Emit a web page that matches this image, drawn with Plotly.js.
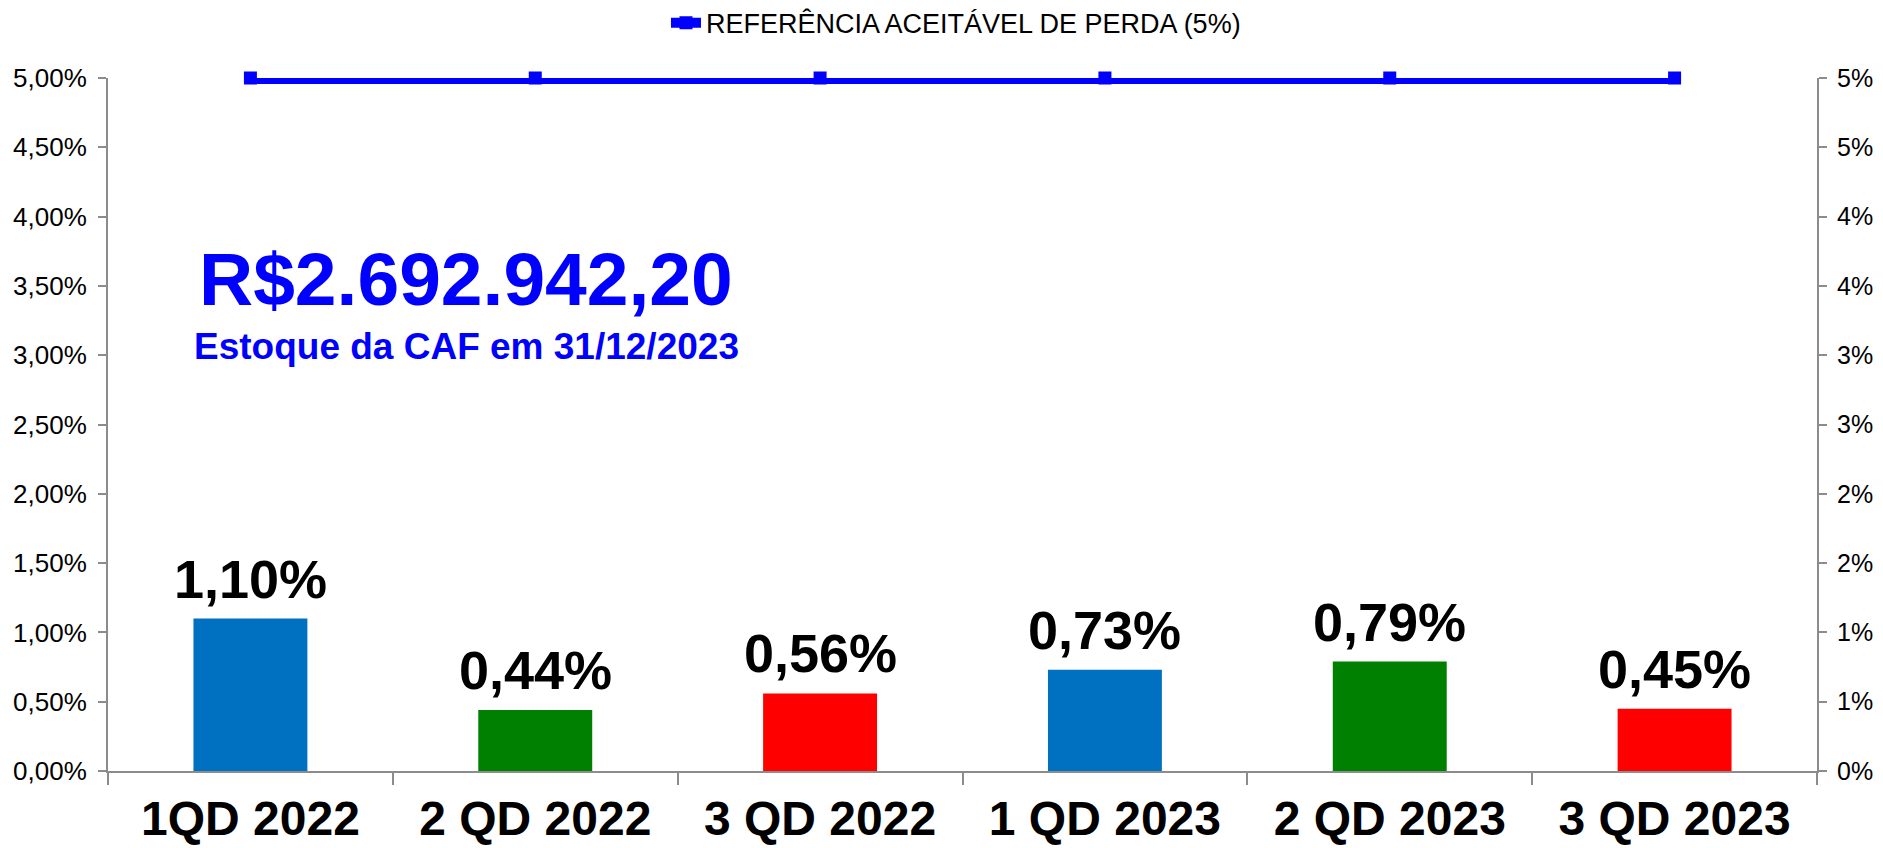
<!DOCTYPE html>
<html>
<head>
<meta charset="utf-8">
<script src="https://cdn.plot.ly/plotly-3.0.1.min.js"></script>
<style>
  html, body { margin: 0; padding: 0; background: #fff; }
  #plot { width: 1883px; height: 848px; }
</style>
</head>
<body>
<div id="plot"></div>
<script>
// dados do grafico (percentuais de perda por quadrimestre)
let categorias = ["1QD 2022", "2 QD 2022", "3 QD 2022", "1 QD 2023", "2 QD 2023", "3 QD 2023"];
let perdas = [1.10, 0.44, 0.56, 0.73, 0.79, 0.45];
let referencia = [5, 5, 5, 5, 5, 5];
let coresBarras = ["#0070C0", "#008000", "#FF0000", "#0070C0", "#008000", "#FF0000"];

let ticksValores = [0, 0.5, 1, 1.5, 2, 2.5, 3, 3.5, 4, 4.5, 5];
let ticksEsquerda = ["0,00%", "0,50%", "1,00%", "1,50%", "2,00%", "2,50%", "3,00%", "3,50%", "4,00%", "4,50%", "5,00%"];
let ticksDireita = ["0%", "1%", "1%", "2%", "2%", "3%", "3%", "4%", "4%", "5%", "5%"];

let estoque = "R$2.692.942,20";
let estoqueLegenda = "Estoque da CAF em 31/12/2023";

let fonte = "Liberation Sans, Arial, sans-serif";
let cinza = "#8c8c8c";

let trace1 = {
    x: categorias,
    y: perdas,
    type: "bar",
    width: 0.4,
    marker: { color: coresBarras },
    showlegend: false,
    hoverinfo: "skip"
};

let trace2 = {
    x: categorias,
    y: referencia,
    yaxis: "y2",
    type: "scatter",
    mode: "lines+markers",
    name: "REFERÊNCIA ACEITÁVEL DE PERDA (5%)",
    line: { color: "#0000FF", width: 12 },
    marker: { color: "#0000FF", symbol: "square", size: 13 },
    cliponaxis: false
};

// rotulos das barras (virgula como separador decimal)
let rotulos = perdas.map((v, i) => ({
    x: categorias[i],
    y: v,
    xref: "x", yref: "y",
    yanchor: "bottom",
    yshift: 8,
    text: "<b>" + v.toFixed(2).replace(".", ",") + "%</b>",
    showarrow: false,
    font: { family: fonte, size: 54, color: "#000" }
}));

let layout = {
    width: 1883,
    height: 848,
    margin: { l: 108, r: 66, t: 78, b: 77, autoexpand: false },
    paper_bgcolor: "#fff",
    plot_bgcolor: "#fff",
    font: { family: fonte, color: "#000" },
    showlegend: true,
    legend: {
        orientation: "h",
        x: 0.3265, xanchor: "left",
        y: 1.079, yanchor: "middle",
        font: { family: fonte, size: 27, color: "#000" },
        bgcolor: "rgba(0,0,0,0)"
    },
    xaxis: {
        type: "category",
        showline: true, linecolor: cinza, linewidth: 2,
        ticks: "outside", tickson: "boundaries", ticklen: 12, tickcolor: cinza, tickwidth: 2,
        ticklabelstandoff: 4,
        tickfont: { family: fonte, size: 48, color: "#000", weight: "bold" },
        showgrid: false, zeroline: false
    },
    yaxis: {
        range: [0, 5],
        tickvals: ticksValores,
        ticktext: ticksEsquerda,
        showline: true, linecolor: cinza, linewidth: 2,
        ticks: "outside", ticklen: 8, tickcolor: cinza, tickwidth: 2,
        ticklabelstandoff: 6,
        tickfont: { family: fonte, size: 26, color: "#000" },
        showgrid: false, zeroline: false
    },
    yaxis2: {
        range: [0, 5],
        overlaying: "y",
        side: "right",
        tickvals: ticksValores,
        ticktext: ticksDireita,
        showline: true, linecolor: cinza, linewidth: 2,
        ticks: "outside", ticklen: 8, tickcolor: cinza, tickwidth: 2,
        ticklabelstandoff: 5,
        tickfont: { family: fonte, size: 25, color: "#000" },
        showgrid: false, zeroline: false
    },
    annotations: rotulos.concat([
        {
            xref: "paper", yref: "paper",
            x: 0.2095, y: 0.71, xanchor: "center", yanchor: "middle",
            text: "<b>" + estoque + "</b>",
            showarrow: false,
            font: { family: fonte, size: 75, color: "#0000FF" }
        },
        {
            xref: "paper", yref: "paper",
            x: 0.2095, y: 0.612, xanchor: "center", yanchor: "middle",
            text: "<b>" + estoqueLegenda + "</b>",
            showarrow: false,
            font: { family: fonte, size: 37, color: "#0000FF" }
        }
    ])
};

Plotly.newPlot("plot", [trace1, trace2], layout, { displayModeBar: false, staticPlot: true });
</script>
</body>
</html>
